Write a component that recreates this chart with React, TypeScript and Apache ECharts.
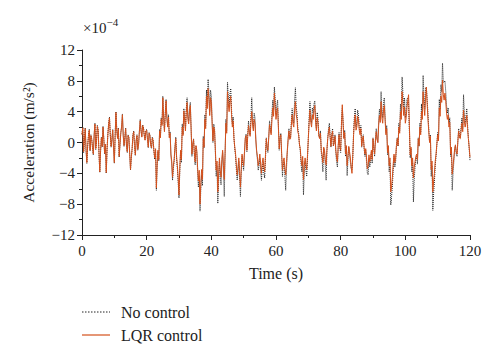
import React, { useEffect, useRef } from "react";
import * as echarts from "echarts";

// Acceleration values in units of 1e-4 m/s^2, one sample every 0.25 s from 0 to 120 s
const noControl: number[] = [
  1.1, 2.0, -1.3, 0.3, 1.9, -1.0, -2.7, -0.5, 0.9, 1.7, -1.1, 1.0, 0.5, -0.7, -1.6, 1.0, 2.5, -0.9, 0.3, 2.2, 1.6, -1.3, -3.9, -1.1, 0.7, -0.6, 2.1, 0.5, -1.5, -0.3, -4.0, -0.9, 1.1, 2.5, 3.3, 1.0, -0.6, 0.5, 1.7, -0.7,
  -2.7, 0.9, 4.0, 1.7, 0.6, 1.9, -1.9, -0.3, 1.3, 2.1, 3.7, 1.0, -0.5, 0.7, 1.9, -0.4, -1.3, 1.0, 0.7, -1.5, -3.6, -2.0, -0.9, 1.0, 1.5, -0.5, -1.7, 0.3, 1.0, -1.0, -0.3, 1.5, 3.0, 1.6, 0.8, 2.3, 2.0, 1.0, 0.4, 1.6,
  1.7, 0.5, -0.7, 1.3, 1.0, -0.4, -0.8, 0.7, 0.3, -1.2, -2.2, -0.9, -6.2, -3.0, -1.2, -2.4, 1.7, 0.7, 3.2, 2.4, 6.0, 3.4, 1.6, 3.8, 5.6, 3.3, 2.2, 3.6, 0.8, 1.4, -1.7, -2.8, -4.9, -3.4, -2.5, -0.8, 0.7, -2.2, -3.4, -5.2,
  -7.2, -3.6, -1.2, -2.6, 2.4, 1.1, 4.4, 3.2, 1.8, 4.4, 5.8, 3.5, 2.8, 4.5, 5.2, 1.9, -1.8, -0.3, 0.5, -1.6, -2.9, -0.5, -1.3, -3.8, -5.8, -4.3, -8.9, -6.0, -4.2, -5.6, 0.8, -0.7, 3.6, 2.2, 6.8, 5.2, 8.2, 6.6, 4.0, 6.8,
  6.0, 2.8, 0.0, 2.4, 1.8, -1.3, -4.4, -3.0, -7.9, -5.2, -2.5, -4.4, -5.5, -2.7, -1.3, -3.7, -7.0, -1.8, 3.0, 1.5, 7.8, 5.9, 4.6, 6.3, 7.0, 4.3, 2.4, 3.3, 0.6, -0.8, -1.8, -3.6, -4.9, -3.8, -2.4, -4.6, -7.0, -4.1, -1.8, -2.9,
  -3.6, -1.5, 0.6, 1.1, -1.2, 1.0, 2.8, 1.6, 1.0, 3.4, 5.8, 3.0, 1.8, 3.8, 3.2, 0.5, -1.3, -2.2, -3.6, -3.0, -2.0, -3.6, -4.9, -3.3, -2.6, -4.0, -4.6, -2.0, 0.6, -0.8, -1.3, 0.8, 2.8, 2.0, 1.3, 3.8, 5.5, 4.2, 7.2, 5.6,
  3.6, 4.8, 5.5, 2.2, -1.0, 0.7, 1.2, -1.8, -4.4, -3.0, -2.5, -4.4, -6.2, -3.4, -1.3, 0.5, 1.8, 0.5, 0.6, 2.8, 4.4, 3.0, 2.5, 5.4, 7.1, 4.6, 3.8, 1.8, 1.2, -0.3, -1.0, -2.8, -3.8, -2.4, -6.8, -4.0, -2.5, -3.6, -4.4, -2.0,
  0.6, 3.2, 5.3, 3.2, 2.5, 4.5, 3.8, 5.0, 5.4, 3.2, 1.8, 3.9, 3.0, 1.0, 0.6, 1.5, -1.3, -2.2, -3.8, -0.8, -1.3, -3.0, -4.9, -1.2, 0.6, 1.8, 2.5, 0.8, -0.6, 1.1, 1.8, -0.5, 0.0, 1.0, -1.3, -2.6, -3.2, -0.5, 1.3, -0.8,
  -1.3, 2.6, 4.4, 2.8, 0.6, 1.6, -1.8, -0.5, -4.3, -2.2, -0.6, -1.5, -2.5, -3.4, -3.5, -2.0, 1.3, 3.4, 4.4, 2.0, 2.5, 4.2, 3.6, 2.0, 1.3, 2.2, -0.6, 0.5, 1.0, -0.8, -1.8, -1.0, -2.5, -4.0, -4.2, -2.0, -3.2, -2.4, -1.3, -2.7,
  0.6, -0.8, -1.8, 0.3, 1.8, 0.5, 0.0, 2.8, 4.3, 3.2, 6.6, 4.0, 3.2, 5.2, 5.8, 3.4, 1.3, 2.2, -1.6, -0.5, -3.8, -2.6, -8.1, -7.0, -5.6, -3.5, -1.8, -3.2, -2.5, -0.5, 0.6, -0.5, 2.5, 1.5, 5.0, 3.8, 8.5, 6.4, 4.4, 5.8,
  3.2, 4.0, 5.6, 5.8, 5.0, 1.6, -2.0, -0.8, -3.8, -2.6, -7.7, -4.8, -3.2, -2.2, -1.8, -2.8, 0.6, -0.5, 2.5, 1.3, 5.0, 3.8, 8.7, 6.0, 4.4, 7.0, 7.2, 5.6, 3.8, 1.8, 0.0, 1.0, -4.4, -3.0, -8.8, -6.6, -5.0, -3.0, -1.8, -0.3,
  1.3, 0.3, 5.6, 4.3, 7.5, 6.6, 10.3, 7.8, 7.8, 8.0, 6.6, 4.8, 3.8, 4.5, 2.5, 3.2, -1.8, -0.8, -6.2, -4.0, -2.5, -1.0, -0.4, -1.5, -1.8, 0.3, 1.8, 0.8, 0.6, 2.0, 3.2, 1.8, 6.2, 3.8, 2.5, 3.4, 4.4, 2.3, 0.6, -0.8, -2.3,
];

const lqrControl: number[] = [
  1.0, 1.9, -1.2, 0.3, 1.8, -0.9, -2.6, -0.4, 0.8, 1.6, -1.0, 0.9, 0.4, -0.6, -1.5, 0.9, 2.4, -0.8, 0.2, 2.1, 1.5, -1.2, -3.8, -1.0, 0.6, -0.5, 2.0, 0.4, -1.4, -0.2, -3.9, -0.8, 1.0, 2.4, 3.2, 0.9, -0.5, 0.4, 1.6, -0.6,
  -2.6, 0.8, 3.9, 1.6, 0.5, 1.8, -1.8, -0.2, 1.2, 2.0, 3.6, 0.9, -0.4, 0.6, 1.8, -0.3, -1.2, 0.9, 0.6, -1.4, -3.5, -1.9, -0.8, 0.9, 1.4, -0.4, -1.6, 0.2, 0.9, -0.9, -0.2, 1.4, 2.8, 1.5, 0.7, 2.2, 1.9, 0.9, 0.3, 1.5,
  1.6, 0.4, -0.6, 1.2, 0.9, -0.3, -0.7, 0.6, 0.2, -1.1, -2.0, -0.8, -5.9, -2.8, -1.0, -2.2, 1.5, 0.6, 3.0, 2.2, 5.8, 3.2, 1.4, 3.6, 5.4, 3.1, 2.0, 3.3, 0.6, 1.2, -1.5, -2.4, -4.5, -3.0, -2.2, -0.6, 0.5, -1.8, -3.0, -4.6,
  -6.8, -3.2, -1.0, -2.2, 2.0, 0.9, 4.1, 2.8, 1.5, 3.9, 5.2, 3.0, 2.4, 4.0, 4.8, 1.6, -1.5, -0.2, 0.4, -1.3, -2.5, -0.4, -1.0, -3.2, -5.0, -3.6, -8.0, -5.2, -3.5, -4.8, 0.5, -0.6, 3.0, 1.8, 6.0, 4.4, 7.0, 5.6, 3.5, 5.8,
  5.2, 2.4, 0.2, 2.0, 1.5, -1.0, -3.6, -2.4, -6.4, -4.2, -2.0, -3.6, -4.5, -2.2, -1.0, -3.0, -4.8, -1.4, 2.5, 1.2, 6.6, 5.0, 4.0, 5.3, 6.0, 3.6, 2.0, 2.8, 0.5, -0.6, -1.5, -3.0, -4.2, -3.2, -2.0, -3.8, -5.8, -3.4, -1.5, -2.4,
  -3.0, -1.2, 0.5, 0.9, -1.0, 0.8, 2.2, 1.3, 0.8, 2.6, 4.0, 2.4, 1.5, 3.0, 2.5, 0.4, -1.0, -1.8, -3.0, -2.4, -1.5, -2.8, -4.0, -2.6, -2.0, -3.2, -3.8, -1.6, 0.5, -0.6, -1.0, 0.6, 2.3, 1.6, 1.0, 3.0, 4.5, 3.4, 6.4, 4.6,
  3.0, 4.0, 4.5, 1.8, -0.8, 0.6, 1.0, -1.4, -3.6, -2.4, -2.0, -3.4, -4.2, -2.6, -1.0, 0.4, 1.5, 0.4, 0.5, 2.2, 3.6, 2.4, 2.0, 4.2, 5.3, 3.6, 3.0, 1.4, 1.0, -0.2, -0.8, -2.2, -3.0, -1.8, -4.8, -3.0, -2.0, -2.8, -3.5, -1.6,
  0.5, 2.6, 4.2, 2.6, 2.0, 3.6, 3.0, 4.2, 4.8, 2.6, 1.5, 3.2, 2.5, 0.8, 0.5, 1.2, -1.0, -1.6, -2.6, -0.6, -1.0, -2.2, -2.9, -0.9, 0.5, 1.4, 2.0, 0.6, -0.5, 0.9, 1.5, -0.4, 0.0, 0.8, -1.0, -2.0, -2.5, -0.4, 1.0, -0.6,
  -1.0, 2.2, 4.9, 2.4, 0.5, 1.3, -1.5, -0.4, -3.0, -1.8, -0.5, -1.2, -2.0, -3.2, -4.0, -1.6, 1.0, 2.8, 3.6, 1.6, 2.0, 3.4, 3.0, 1.6, 1.0, 1.8, -0.5, 0.4, 0.8, -0.6, -1.5, -0.8, -2.0, -3.4, -3.0, -1.6, -2.5, -1.9, -1.0, -2.2,
  0.5, -0.6, -1.5, 0.2, 1.4, 0.4, 0.0, 2.2, 3.5, 2.6, 5.3, 3.2, 2.5, 4.2, 4.8, 2.8, 1.0, 1.8, -1.3, -0.4, -3.0, -2.0, -6.4, -5.6, -4.5, -2.8, -1.5, -2.6, -2.0, -0.4, 0.5, -0.4, 2.0, 1.2, 4.0, 3.0, 6.6, 5.0, 3.5, 4.6,
  2.5, 3.2, 4.5, 5.4, 6.2, 2.2, -1.6, -0.6, -3.0, -2.0, -4.6, -3.2, -2.5, -1.8, -1.5, -2.2, 0.5, -0.4, 2.0, 1.0, 4.0, 3.0, 6.6, 4.8, 3.5, 5.8, 7.2, 5.0, 3.0, 1.4, 0.0, 0.8, -3.5, -2.4, -6.4, -5.0, -4.0, -2.4, -1.5, -0.2,
  1.0, 0.2, 4.5, 3.4, 6.0, 5.2, 8.1, 6.2, 5.5, 6.4, 5.3, 3.8, 3.0, 3.6, 2.0, 2.6, -1.5, -0.6, -4.1, -3.0, -2.0, -0.8, -0.3, -1.2, -1.5, 0.2, 1.5, 0.6, 0.5, 1.6, 2.5, 1.4, 4.2, 2.8, 2.0, 2.6, 3.5, 1.8, 0.5, -0.6, -1.9,
];

const timeStep = 0.25; // s between samples
const seriesNames = ["No control", "LQR control"];
const serif = "'Liberation Serif', 'Times New Roman', serif";
const orange = "#d4501c";
const ink = "#222222";

export default function App() {
  const ref = useRef<HTMLDivElement>(null);

  useEffect(() => {
    document.body.style.margin = "0";
    if (!ref.current) return;
    const chart = echarts.init(ref.current, undefined, { renderer: "svg" });
    const toPairs = (arr: number[]) => arr.map((v, i) => [i * timeStep, v]);
    const fmt = (v: number) => (v < 0 ? "\u2212" + Math.abs(v) : String(v));

    chart.setOption({
      animation: false,
      backgroundColor: "#ffffff",
      grid: { left: 82, right: 30, top: 50, bottom: 125, containLabel: false },
      xAxis: {
        type: "value",
        min: 0,
        max: 120,
        interval: 20,
        name: "Time (s)",
        nameLocation: "middle",
        nameGap: 30,
        nameTextStyle: { fontFamily: serif, fontSize: 16, color: ink },
        axisLine: { onZero: false, lineStyle: { color: ink, width: 1 } },
        axisTick: { show: true, inside: false, length: 5, lineStyle: { color: ink } },
        minorTick: { show: true, splitNumber: 2, length: 3, lineStyle: { color: ink } },
        axisLabel: { fontFamily: serif, fontSize: 15, color: ink, margin: 8 },
        splitLine: { show: false },
        minorSplitLine: { show: false },
      },
      yAxis: {
        type: "value",
        min: -12,
        max: 12,
        interval: 4,
        name: "Acceleration (m/s\u00B2)",
        nameLocation: "middle",
        nameGap: 46,
        nameRotate: 90,
        nameTextStyle: { fontFamily: serif, fontSize: 15.5, color: ink },
        axisLine: { show: true, onZero: false, lineStyle: { color: ink, width: 1 } },
        axisTick: { show: true, inside: false, length: 5, lineStyle: { color: ink } },
        minorTick: { show: true, splitNumber: 2, length: 3, lineStyle: { color: ink } },
        axisLabel: { fontFamily: serif, fontSize: 15, color: ink, margin: 7, formatter: fmt },
        splitLine: { show: false },
        minorSplitLine: { show: false },
      },
      series: [
        {
          name: seriesNames[0],
          type: "line",
          data: toPairs(noControl),
          showSymbol: false,
          lineStyle: { color: ink, width: 1, type: "dotted" },
          z: 2,
        },
        {
          name: seriesNames[1],
          type: "line",
          data: toPairs(lqrControl),
          showSymbol: false,
          lineStyle: { color: orange, width: 1 },
          z: 3,
        },
      ],
      graphic: [
        {
          type: "text",
          left: 83,
          top: 16,
          style: {
            text: "{a|\u00D710}{b|\u22124}",
            rich: {
              a: { fontFamily: serif, fontSize: 15, fill: ink, verticalAlign: "bottom" },
              b: { fontFamily: serif, fontSize: 11, fill: ink, verticalAlign: "top", padding: [0, 0, 8, 0] },
            },
          },
        },
        {
          type: "line",
          shape: { x1: 82, y1: 312, x2: 110, y2: 312 },
          style: { stroke: ink, lineWidth: 1, lineDash: [1.5, 1.5] },
        },
        {
          type: "text",
          x: 121,
          y: 312,
          style: { text: seriesNames[0], fontFamily: serif, fontSize: 16, fill: ink, verticalAlign: "middle" },
        },
        {
          type: "line",
          shape: { x1: 82, y1: 335, x2: 110, y2: 335 },
          style: { stroke: orange, lineWidth: 1.2 },
        },
        {
          type: "text",
          x: 121,
          y: 335,
          style: { text: seriesNames[1], fontFamily: serif, fontSize: 16, fill: ink, verticalAlign: "middle" },
        },
      ],
    });

    return () => chart.dispose();
  }, []);

  return <div ref={ref} style={{ width: 500, height: 360 }} />;
}
